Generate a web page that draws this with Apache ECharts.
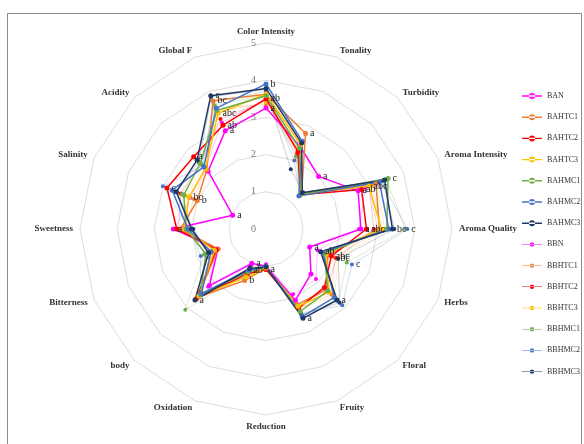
<!DOCTYPE html>
<html>
<head>
<meta charset="utf-8">
<title>Sensory profile radar</title>
<script src="https://cdn.jsdelivr.net/npm/echarts@6/dist/echarts.min.js"></script>
</head>
<body style="margin:0;background:#fff;">
<div id="main" style="width:584px;height:444px;"></div>
<script>
    // attributes, clockwise from the top
    var attributes = ['Color Intensity', 'Tonality', 'Turbidity', 'Aroma Intensity', 'Aroma Quality', 'Herbs',
        'Floral', 'Fruity', 'Reduction', 'Oxidation', 'body', 'Bitterness', 'Sweetness', 'Salinity', 'Acidity', 'Global F'];
    var scaleTicks = ['0', '1', '2', '3', '4', '5'];

    var sampleNames = ['BAN', 'BAHTC1', 'BAHTC2', 'BAHTC3', 'BAHMC1', 'BAHMC2', 'BAHMC3',
        'BBN', 'BBHTC1', 'BBHTC2', 'BBHTC3', 'BBHMC1', 'BBHMC2', 'BBHMC3'];
    var sampleColors = ['#ff00ff', '#ed7d31', '#ff0000', '#ffc000', '#70ad47', '#4472c4', '#203864',
        '#ff00ff', '#ed7d31', '#ff0000', '#ffc000', '#70ad47', '#4472c4', '#203864'];

    var BAN    = [3.25, 2.40, 2.00, 2.68, 2.55, 1.27, 1.71, 2.07, 1.00, 1.00, 2.15, 1.40, 2.49, 0.97, 2.20, 2.86];
    var BAHTC1 = [3.62, 2.78, 1.35, 3.20, 3.05, 1.80, 2.30, 2.20, 1.05, 1.50, 2.60, 1.40, 2.30, 2.00, 2.25, 3.73];
    var BAHTC2 = [3.50, 2.25, 1.30, 2.78, 2.70, 1.90, 2.22, 2.30, 1.09, 1.30, 2.65, 1.45, 2.40, 2.88, 2.75, 3.02];
    var BAHTC3 = [3.63, 2.45, 1.35, 3.00, 3.10, 1.75, 2.40, 2.25, 1.05, 1.40, 2.55, 1.50, 2.20, 2.24, 2.30, 3.37];
    var BAHMC1 = [3.58, 2.35, 1.30, 3.55, 3.25, 1.70, 2.35, 2.40, 1.02, 1.25, 2.50, 1.75, 2.15, 2.39, 2.50, 3.45];
    var BAHMC2 = [3.90, 2.55, 1.25, 3.30, 3.30, 1.65, 2.60, 2.55, 1.00, 1.20, 2.45, 1.60, 2.10, 2.73, 2.36, 3.51];
    var BAHMC3 = [3.78, 2.50, 1.38, 3.45, 3.40, 1.59, 2.70, 2.60, 1.02, 1.15, 2.70, 1.67, 2.00, 2.61, 2.62, 3.88];
    var BBN    = [3.50, 2.30, 1.30, 2.90, 2.50, 1.50, 1.90, 1.90, 0.95, 1.05, 2.20, 1.45, 2.45, 2.20, 2.30, 3.10];
    var BBHTC1 = [3.35, 2.15, 1.30, 3.10, 3.10, 2.00, 2.50, 2.30, 1.05, 1.35, 2.50, 1.50, 2.20, 2.10, 2.30, 3.50];
    var BBHTC2 = [3.45, 2.20, 1.35, 3.00, 2.90, 2.05, 2.30, 2.25, 1.10, 1.30, 2.60, 1.55, 2.35, 2.49, 2.50, 3.20];
    var BBHTC3 = [3.40, 2.30, 1.25, 3.20, 3.20, 2.10, 2.60, 2.30, 1.05, 1.40, 2.55, 1.60, 2.10, 2.30, 2.40, 3.40];
    var BBHMC1 = [3.60, 2.10, 1.30, 3.50, 3.75, 2.35, 2.75, 2.50, 1.00, 1.30, 3.07, 1.80, 2.00, 2.45, 2.45, 3.60];
    var BBHMC2 = [3.70, 1.99, 1.28, 3.35, 3.80, 2.50, 2.90, 2.45, 1.00, 1.25, 2.50, 1.90, 2.05, 3.00, 2.40, 3.70];
    var BBHMC3 = [3.75, 1.74, 1.40, 3.40, 3.45, 2.10, 2.80, 2.50, 1.02, 1.10, 2.70, 1.70, 1.95, 2.60, 2.55, 3.85];
    var sampleValues = [BAN, BAHTC1, BAHTC2, BAHTC3, BAHMC1, BAHMC2, BAHMC3,
        BBN, BBHTC1, BBHTC2, BBHTC3, BBHMC1, BBHMC2, BBHMC3];

    // significance letters written next to some points ('' = none)
    var letters = [
        ['a', '', 'a', 'a', 'a', 'a', '', '', '', 'a', '', '', 'a', 'a', '', 'a'],
        ['', 'a', '', '', '', '', '', '', '', 'b', '', '', '', 'b', '', 'bc'],
        ['ab', '', '', 'ab', 'abc', 'abc', '', '', 'a', '', '', '', '', 'c', 'a', 'ab'],
        ['', '', '', 'abc', '', '', '', '', '', '', '', '', '', 'bc', '', 'abc'],
        ['', '', '', 'c', '', '', '', '', '', '', '', '', '', '', '', ''],
        ['b', '', '', '', '', '', '', '', '', 'ab', '', '', '', '', '', ''],
        ['', '', '', '', 'bc', 'ab', 'a', 'a', '', '', 'a', '', '', '', '', 'c'],
        ['', '', '', '', '', '', '', '', '', '', '', '', '', '', '', ''],
        ['', '', '', '', '', '', '', '', '', '', '', '', '', '', '', ''],
        ['', '', '', '', '', 'bc', '', '', '', '', '', '', '', '', '', ''],
        ['', '', '', '', '', '', '', '', '', '', '', '', '', '', '', ''],
        ['', '', '', '', '', '', '', '', '', '', '', '', '', '', '', ''],
        ['', '', '', '', 'c', 'c', '', '', '', '', '', 'a', '', '', '', ''],
        ['', '', '', '', '', '', '', '', '', '', '', '', '', '', '', '']
    ];

    var serif = 'Liberation Serif';

    // radar lays indicators out counter-clockwise, so feed them in reverse after the first
    var order = [0];
    for (var i = attributes.length - 1; i > 0; i--) order.push(i);

    var indicators = order.map(function (idx, p) {
        var ind = {name: attributes[idx], min: 0, max: 5};
        if (p === 0) {
            ind.axisLabel = {
                show: true,
                color: '#777',
                fontFamily: serif,
                fontSize: 10,
                margin: 10,
                formatter: function (v) { return scaleTicks[Math.round(v)]; }
            };
        }
        return ind;
    });

    var lineIcon = 'path://M0,2.3H20V3.7H0Z M10,0A3,3 0 1,0 10,6A3,3 0 1,0 10,0Z';
    var faintIcon = 'path://M0,2.75H20V3.25H0Z M10,0.8A2.2,2.2 0 1,0 10,5.2A2.2,2.2 0 1,0 10,0.8Z M10,0H10.01V6H10Z';

    var series = sampleNames.map(function (name, k) {
        var isA = k < 7;
        return {
            type: 'radar',
            name: name,
            z: isA ? 3 : 2,
            symbol: 'circle',
            symbolSize: isA ? 5 : 4,
            itemStyle: {color: sampleColors[k]},
            lineStyle: {color: sampleColors[k], width: isA ? 1.5 : 1, opacity: isA ? 1 : 0.25},
            label: {
                show: true,
                position: 'right',
                distance: 2,
                color: '#222',
                fontFamily: serif,
                fontSize: 10,
                formatter: function (p) {
                    return letters[k][order[p.dimensionIndex]] || '';
                }
            },
            data: [{
                value: order.map(function (idx) { return sampleValues[k][idx]; }),
                name: name
            }]
        };
    });

    var myChart = echarts.init(document.getElementById('main'));
    myChart.setOption({
        animation: false,
        backgroundColor: '#fff',
        graphic: [{
            type: 'rect',
            shape: {x: 7.5, y: 13.5, width: 574, height: 440},
            style: {fill: 'none', stroke: '#8c8c8c', lineWidth: 1}
        }],
        legend: {
            orient: 'vertical',
            left: 522,
            top: 92,
            padding: 0,
            itemWidth: 20,
            itemHeight: 6,
            itemGap: 13.2,
            itemTextGap: 4,
            textStyle: {color: '#333', fontFamily: serif, fontSize: 8},
            data: sampleNames.map(function (name, k) {
                return {name: name, icon: k < 7 ? lineIcon : faintIcon};
            })
        },
        radar: {
            center: [266, 229],
            radius: 186,
            startAngle: 90,
            shape: 'polygon',
            splitNumber: 5,
            nameGap: 7,
            axisName: {color: '#333', fontFamily: serif, fontWeight: 'bold', fontSize: 9},
            splitLine: {lineStyle: {color: '#dcdcdc', width: 1}},
            splitArea: {show: false},
            axisLine: {show: false},
            axisTick: {show: false},
            axisLabel: {show: false},
            indicator: indicators
        },
        series: series
    });
</script>
</body>
</html>
